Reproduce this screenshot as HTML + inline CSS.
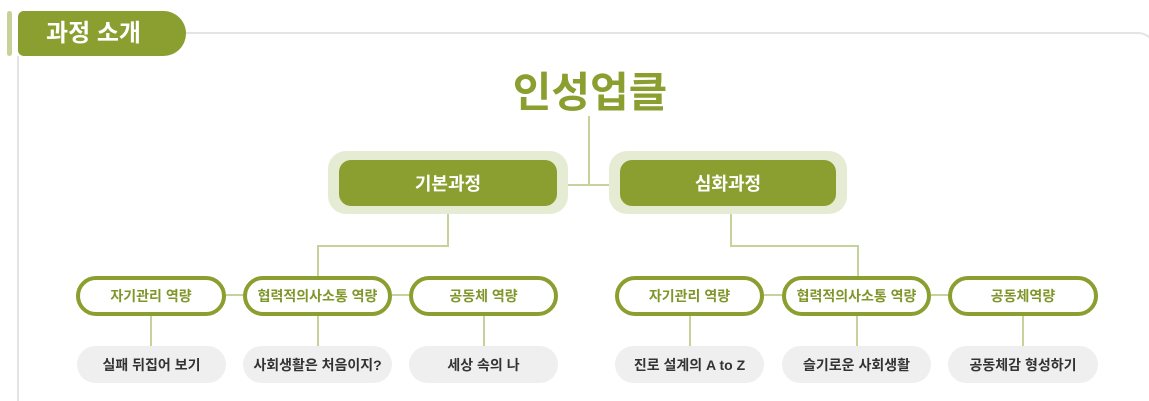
<!DOCTYPE html>
<html><head><meta charset="utf-8"><style>
body{margin:0;width:1149px;height:401px;background:#fff;position:relative;overflow:hidden;font-family:"Liberation Sans","Noto Sans CJK KR",sans-serif}
.a{position:absolute;box-sizing:border-box}
.ln{position:absolute;background:#c5d39a}
.pill{position:absolute;box-sizing:border-box;height:40px;border:4px solid #8a9f2f;border-radius:20px;background:#fff;color:#7f962a;font-weight:bold;font-size:14px;display:flex;align-items:center;justify-content:center}
.gp{position:absolute;height:37px;border-radius:19px;background:#efefef;color:#333;font-weight:bold;font-size:14px;display:flex;align-items:center;justify-content:center}
.halo{position:absolute;background:#e6ebd4;border-radius:18px}
.box{position:absolute;background:#8a9f2f;border-radius:12px;color:#fff;font-weight:bold;font-size:18px;display:flex;align-items:center;justify-content:center}
</style></head><body>
<div class="a" style="left:7px;top:11px;width:5px;height:45px;background:#c6d29a;border-radius:3px"></div>
<div class="a" style="left:17px;top:56px;width:2px;height:345px;background:#e4e4e4"></div>
<div class="a" style="left:160px;top:32px;width:996px;height:100px;border-top:2px solid #e4e4e4;border-right:2px solid #e4e4e4;border-top-right-radius:18px"></div>
<div class="a" style="left:18px;top:11px;width:168px;height:45px;background:#8a9f2f;border-radius:6px 23px 23px 6px;color:#fff;font-weight:bold;font-size:24px;line-height:45px;padding-left:28px">과정 소개</div>
<div class="a" style="left:490px;top:66px;width:200px;text-align:center;color:#8a9f2f;font-weight:bold;font-size:42px;line-height:54px">인성업클</div>
<div class="ln" style="left:588px;top:116px;width:2px;height:70px"></div>
<div class="ln" style="left:568px;top:184px;width:42px;height:2px"></div>
<div class="halo" style="left:328px;top:151px;width:240px;height:63px"></div>
<div class="box" style="left:339px;top:160px;width:218px;height:46px">기본과정</div>
<div class="halo" style="left:609px;top:151px;width:238px;height:63px"></div>
<div class="box" style="left:620px;top:160px;width:216px;height:46px">심화과정</div>
<div class="ln" style="left:447px;top:214px;width:2px;height:32px"></div>
<div class="ln" style="left:317px;top:245px;width:132px;height:2px"></div>
<div class="ln" style="left:317px;top:245px;width:2px;height:32px"></div>
<div class="ln" style="left:730px;top:214px;width:2px;height:32px"></div>
<div class="ln" style="left:730px;top:245px;width:128px;height:2px"></div>
<div class="ln" style="left:857px;top:245px;width:2px;height:32px"></div>
<div class="ln" style="left:226px;top:294px;width:18px;height:2px"></div>
<div class="ln" style="left:392px;top:294px;width:18px;height:2px"></div>
<div class="ln" style="left:764px;top:294px;width:18px;height:2px"></div>
<div class="ln" style="left:931px;top:294px;width:18px;height:2px"></div>
<div class="ln" style="left:150px;top:315px;width:2px;height:32px"></div>
<div class="ln" style="left:317px;top:315px;width:2px;height:32px"></div>
<div class="ln" style="left:483px;top:315px;width:2px;height:32px"></div>
<div class="ln" style="left:689px;top:315px;width:2px;height:32px"></div>
<div class="ln" style="left:856px;top:315px;width:2px;height:32px"></div>
<div class="ln" style="left:1022px;top:315px;width:2px;height:32px"></div>
<div class="pill" style="left:76px;top:276px;width:150px">자기관리 역량</div>
<div class="pill" style="left:243px;top:276px;width:149px">협력적의사소통 역량</div>
<div class="pill" style="left:409px;top:276px;width:149px">공동체 역량</div>
<div class="pill" style="left:615px;top:276px;width:149px">자기관리 역량</div>
<div class="pill" style="left:782px;top:276px;width:149px">협력적의사소통 역량</div>
<div class="pill" style="left:948px;top:276px;width:150px">공동체역량</div>
<div class="gp" style="left:77px;top:346px;width:149px">실패 뒤집어 보기</div>
<div class="gp" style="left:243px;top:346px;width:149px">사회생활은 처음이지?</div>
<div class="gp" style="left:409px;top:346px;width:149px">세상 속의 나</div>
<div class="gp" style="left:615px;top:346px;width:149px">진로 설계의 A to Z</div>
<div class="gp" style="left:782px;top:346px;width:149px">슬기로운 사회생활</div>
<div class="gp" style="left:948px;top:346px;width:150px">공동체감 형성하기</div>
</body></html>
